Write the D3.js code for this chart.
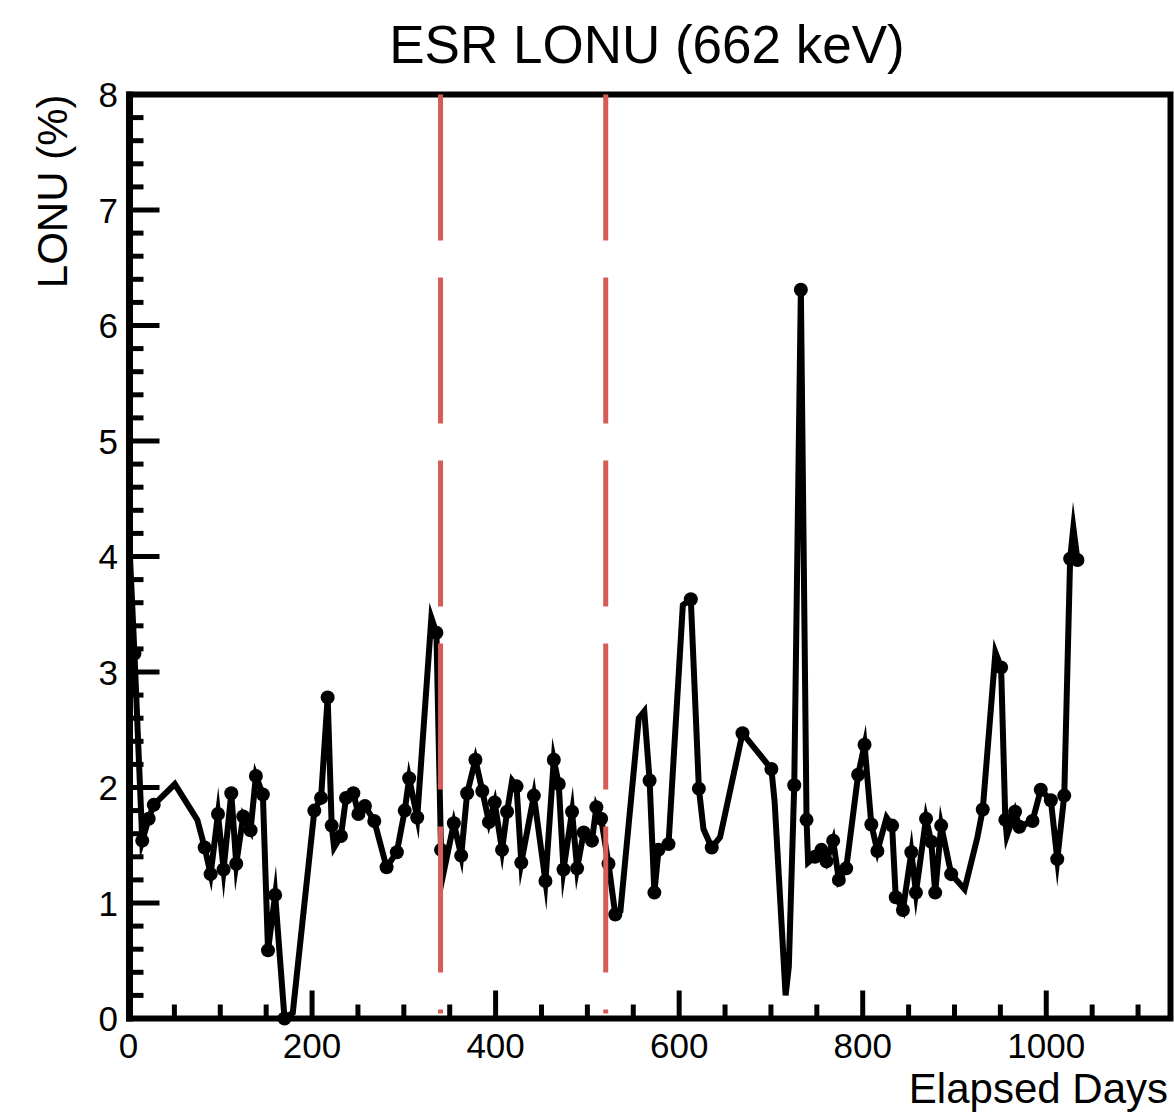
<!DOCTYPE html>
<html>
<head>
<meta charset="utf-8">
<script src="https://cdn.jsdelivr.net/npm/d3@7"></script>
<style>
  html, body { margin: 0; padding: 0; background: #ffffff; }
  svg { display: block; font-family: "Liberation Sans", Arial, Helvetica, sans-serif; }
</style>
</head>
<body>
<svg id="chart" width="1174" height="1116"></svg>
<script>
// ---- texts ----
const chartTitle = "ESR LONU (662 keV)";
const xTitle = "Elapsed Days";
const yTitle = "LONU (%)";

// ---- trend line vertices (elapsed day, LONU %) ----
const days = [
  1, 6.5, 15, 22, 27.5, 50.5, 75, 83, 89.5, 97.5,
  103.6, 112, 117.4, 125, 133, 138.8, 146.4, 152, 159.8, 170,
  179, 202.5, 209.8, 217, 221.4, 224, 231.5, 237, 245, 250.5,
  257.6, 267.8, 281.2, 292.4, 301, 305.8, 314.6, 330, 335.5, 340.5,
  343, 354.5, 362.5, 369, 378, 385.5, 392.8, 399, 407, 412.5,
  418, 422.8, 428, 441.7, 454.3, 463.4, 468.8, 474, 483.3, 488.8,
  496, 505, 509.8, 515, 523, 530.4, 536, 556, 562, 567.8,
  573, 577.5, 588.4, 604, 612.7, 621.5, 626.5, 635.5, 644.6, 669,
  700.5, 704, 716, 719.5, 725.4, 732.6, 738.8, 740.5, 748, 755,
  760.5, 767.8, 774, 782, 795, 802, 809.4, 816, 826, 832,
  836, 843.8, 853, 858, 869, 874.7, 879, 885.5, 896.4, 911,
  925, 930.8, 944.6, 950.8, 955.4, 957, 966, 970.7, 985, 994,
  1005, 1012, 1019.6, 1026, 1029.5, 1034
];
const lonu = [
  4.1, 3.16, 1.54, 1.73, 1.85, 2.03, 1.72, 1.48, 1.25, 1.77,
  1.29, 1.95, 1.34, 1.75, 1.63, 2.10, 1.94, 0.59, 1.07, 0.0,
  0.05, 1.80, 1.91, 2.78, 1.67, 1.48, 1.58, 1.91, 1.95, 1.77,
  1.84, 1.71, 1.31, 1.44, 1.80, 2.08, 1.74, 3.47, 3.34, 1.46,
  1.25, 1.69, 1.41, 1.95, 2.24, 1.97, 1.70, 1.87, 1.46, 1.79,
  2.06, 2.01, 1.35, 1.93, 1.19, 2.24, 2.03, 1.29, 1.79, 1.30,
  1.61, 1.54, 1.83, 1.73, 1.34, 0.90, 0.93, 2.60, 2.66, 2.06,
  1.09, 1.46, 1.51, 3.58, 3.63, 1.99, 1.64, 1.48, 1.57, 2.47,
  2.16, 1.88, 0.20, 0.45, 2.02, 6.31, 1.72, 1.35, 1.40, 1.46,
  1.36, 1.54, 1.20, 1.30, 2.11, 2.37, 1.68, 1.45, 1.74, 1.67,
  1.05, 0.94, 1.44, 1.09, 1.73, 1.53, 1.09, 1.67, 1.25, 1.12,
  1.57, 1.81, 3.17, 3.04, 1.72, 1.58, 1.79, 1.66, 1.71, 1.98,
  1.89, 1.38, 1.93, 3.98, 4.25, 3.97
];
// 1 = a measurement is plotted with a marker at this vertex
const measured = [
  0, 1, 1, 1, 1, 0, 0, 1, 1, 1,
  1, 1, 1, 1, 1, 1, 1, 1, 1, 1,
  0, 1, 1, 1, 1, 0, 1, 1, 1, 1,
  1, 1, 1, 1, 1, 1, 1, 0, 1, 1,
  0, 1, 1, 1, 1, 1, 1, 1, 1, 1,
  0, 1, 1, 1, 1, 1, 1, 1, 1, 1,
  1, 1, 1, 1, 1, 1, 0, 0, 0, 1,
  1, 1, 1, 0, 1, 1, 0, 1, 0, 1,
  1, 0, 0, 0, 1, 1, 1, 0, 1, 1,
  1, 1, 1, 1, 1, 1, 1, 1, 0, 1,
  1, 1, 1, 1, 1, 1, 1, 1, 1, 0,
  0, 1, 0, 1, 1, 0, 1, 1, 1, 1,
  1, 1, 1, 1, 0, 1
];

// ---- reference days marked by dashed vertical lines ----
const eventDays = [340, 520];

// ---- axis ticks ----
const xMajorTicks = [0, 200, 400, 600, 800, 1000];
const xTickLabels = ["0", "200", "400", "600", "800", "1000"];
const yMajorTicks = [0, 1, 2, 3, 4, 5, 6, 7, 8];
const yTickLabels = ["0", "1", "2", "3", "4", "5", "6", "7", "8"];

// ---- layout ----
const frame = { left: 129.5, right: 1170.5, top: 94.5, bottom: 1018.5 };
const x = d3.scaleLinear().domain([0, 1137]).range([128.5, 1172]);
const y = d3.scaleLinear().domain([0, 8]).range([frame.bottom, frame.top]);

const svg = d3.select("#chart");
svg.append("rect").attr("width", 1174).attr("height", 1116).attr("fill", "#fff");

// frame
svg.append("rect")
  .attr("x", frame.left).attr("y", frame.top)
  .attr("width", frame.right - frame.left).attr("height", frame.bottom - frame.top)
  .attr("fill", "none").attr("stroke", "#000").attr("stroke-width", 6);
svg.append("line")
  .attr("x1", frame.left).attr("x2", frame.left)
  .attr("y1", frame.top - 3).attr("y2", frame.bottom + 3)
  .attr("stroke", "#000").attr("stroke-width", 7);

// y ticks (major every 1, minor every 0.2), drawn inward
const yMinor = d3.range(0, 8.0001, 0.2).map(v => +v.toFixed(1));
svg.append("g").selectAll("line").data(yMinor).join("line")
  .attr("x1", frame.left)
  .attr("x2", d => frame.left + (Math.abs(d - Math.round(d)) < 1e-6 ? 30 : 14))
  .attr("y1", d => y(d)).attr("y2", d => y(d))
  .attr("stroke", "#000").attr("stroke-width", 5);

// x ticks (major every 200, minor every 50), drawn inward
const xMinor = d3.range(50, 1137, 50);
svg.append("g").selectAll("line").data(xMinor).join("line")
  .attr("x1", d => x(d)).attr("x2", d => x(d))
  .attr("y1", frame.bottom)
  .attr("y2", d => frame.bottom - (d % 200 === 0 ? 28 : 14))
  .attr("stroke", "#000").attr("stroke-width", 5);

// tick labels
svg.append("g").selectAll("text").data(yMajorTicks).join("text")
  .attr("x", 118).attr("y", d => y(d) + 12.5)
  .attr("text-anchor", "end").attr("font-size", 35)
  .text((d, i) => yTickLabels[i]);

svg.append("g").selectAll("text").data(xMajorTicks).join("text")
  .attr("x", d => x(d)).attr("y", 1058)
  .attr("text-anchor", "middle").attr("font-size", 35)
  .text((d, i) => xTickLabels[i]);

// titles
svg.append("text")
  .attr("x", 647).attr("y", 63)
  .attr("text-anchor", "middle").attr("font-size", 53)
  .text(chartTitle);

svg.append("text")
  .attr("transform", "translate(67," + frame.top + ") rotate(-90)")
  .attr("text-anchor", "end").attr("font-size", 42)
  .text(yTitle);

svg.append("text")
  .attr("x", 1168).attr("y", 1103)
  .attr("text-anchor", "end").attr("font-size", 42)
  .text(xTitle);

// data
const pts = days.map((d, i) => ({ day: d, v: lonu[i], m: measured[i] }));

const plot = svg.append("g");
plot.append("path")
  .datum(pts)
  .attr("d", d3.line().x(d => x(d.day)).y(d => y(d.v)))
  .attr("fill", "none")
  .attr("stroke", "#000")
  .attr("stroke-width", 6)
  .attr("stroke-linejoin", "miter")
  .attr("stroke-miterlimit", 10);

plot.selectAll("circle").data(pts.filter(p => p.m === 1)).join("circle")
  .attr("cx", d => x(d.day)).attr("cy", d => y(d.v))
  .attr("r", 7).attr("fill", "#000");

// event markers
svg.append("g").selectAll("line").data(eventDays).join("line")
  .attr("x1", d => x(d)).attr("x2", d => x(d))
  .attr("y1", frame.top).attr("y2", frame.bottom - 5)
  .attr("stroke", "#d65c57").attr("stroke-width", 5)
  .attr("stroke-dasharray", "146 37");
</script>
</body>
</html>
